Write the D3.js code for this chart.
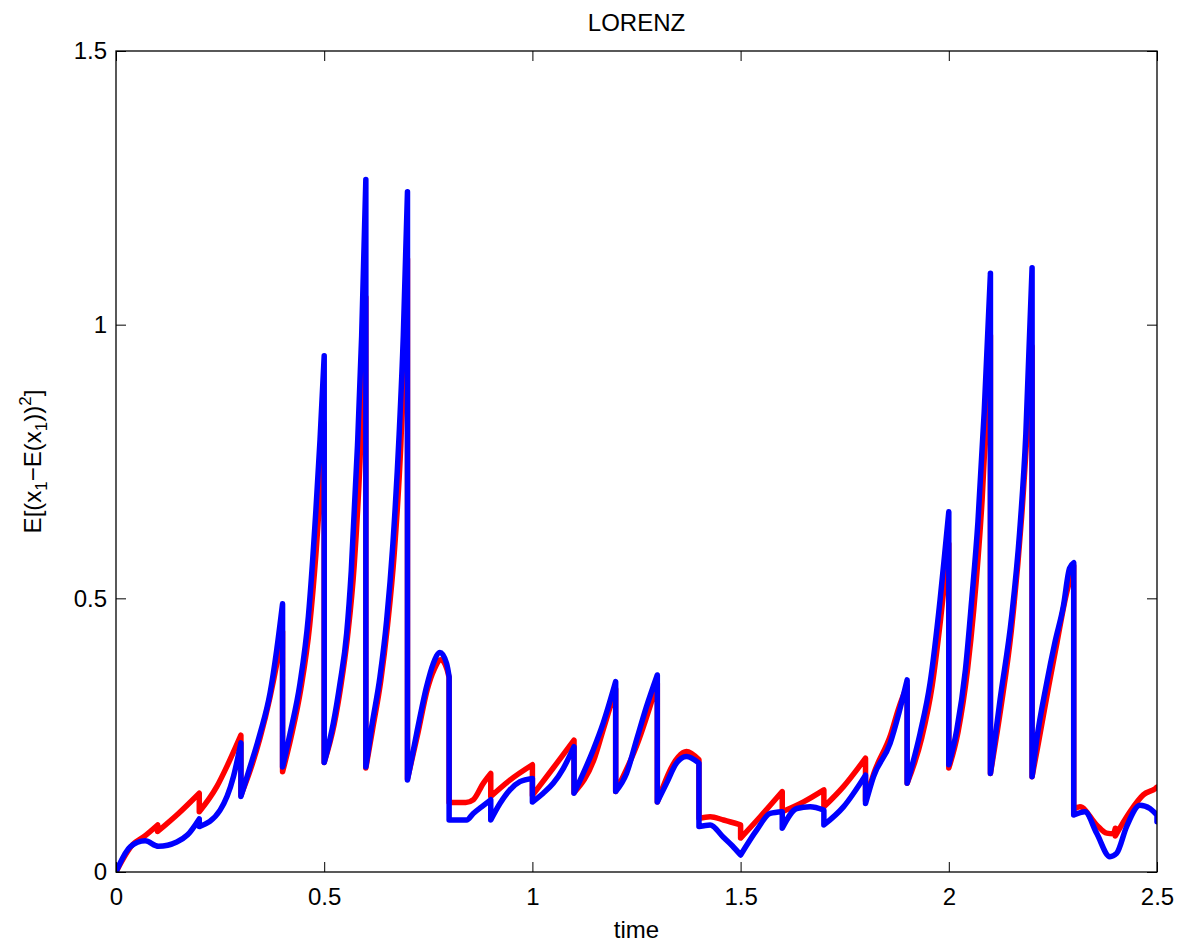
<!DOCTYPE html>
<html>
<head>
<meta charset="utf-8">
<script src="https://cdn.jsdelivr.net/npm/d3@7"></script>
<style>
  body { margin: 0; background: #fff; }
  text { font-family: "Liberation Sans", Arial, sans-serif; fill: #000; }
</style>
</head>
<body>
<svg id="chart" width="1194" height="946"></svg>
<script>
// values (time, variance); repeated times are the jumps
let blueT = [0, 0.034, 0.07, 0.102, 0.146, 0.172, 0.2, 0.2,
  0.25, 0.282, 0.3, 0.3, 0.322, 0.346, 0.37, 0.386, 0.4,
  0.4, 0.418, 0.442, 0.462, 0.48, 0.49, 0.5,
  0.5, 0.522, 0.538, 0.554, 0.565, 0.58, 0.59, 0.6,
  0.6, 0.614, 0.634, 0.65, 0.665, 0.68, 0.69, 0.7,
  0.7, 0.722, 0.746, 0.762, 0.778, 0.794, 0.8,
  0.8, 0.842, 0.858, 0.878, 0.9,
  0.9, 0.922, 0.946, 0.97, 1.0,
  1.0, 1.026, 1.05, 1.074, 1.1,
  1.1, 1.122, 1.146, 1.17, 1.2,
  1.2, 1.226, 1.25, 1.274, 1.3,
  1.3, 1.322, 1.346, 1.37, 1.4,
  1.4, 1.427, 1.458, 1.48, 1.5,
  1.5, 1.539, 1.571, 1.6,
  1.6, 1.635, 1.667, 1.7,
  1.7, 1.747, 1.8,
  1.8, 1.819, 1.859, 1.88, 1.9,
  1.9, 1.931, 1.955, 1.979, 1.99, 2.0,
  2.0, 2.019, 2.04, 2.055, 2.07, 2.085, 2.1,
  2.1, 2.123, 2.151, 2.17, 2.185, 2.2,
  2.2, 2.211, 2.235, 2.255, 2.275, 2.29, 2.3,
  2.3, 2.327, 2.355, 2.387, 2.403, 2.427, 2.459, 2.483, 2.5, 2.5];
let blueV = [0, 0.046, 0.057, 0.047, 0.055, 0.068, 0.097, 0.083,
  0.113, 0.174, 0.236, 0.138, 0.192, 0.253, 0.327, 0.406, 0.49,
  0.192, 0.253, 0.345, 0.467, 0.66, 0.79, 0.943,
  0.2, 0.272, 0.345, 0.436, 0.55, 0.78, 0.98, 1.265,
  0.192, 0.265, 0.357, 0.46, 0.6, 0.8, 0.98, 1.243,
  0.168, 0.253, 0.339, 0.381, 0.401, 0.381, 0.357,
  0.095, 0.095, 0.107, 0.119, 0.132,
  0.095, 0.125, 0.15, 0.165, 0.171,
  0.128, 0.144, 0.162, 0.189, 0.229,
  0.144, 0.18, 0.223, 0.272, 0.348,
  0.147, 0.18, 0.241, 0.302, 0.36,
  0.128, 0.162, 0.199, 0.211, 0.199,
  0.083, 0.086, 0.064, 0.048, 0.031,
  0.031, 0.077, 0.107, 0.11,
  0.08, 0.116, 0.119, 0.113,
  0.086, 0.119, 0.177,
  0.125, 0.174, 0.235, 0.29, 0.351,
  0.162, 0.253, 0.345, 0.497, 0.58, 0.658,
  0.196, 0.259, 0.37, 0.497, 0.64, 0.84, 1.094,
  0.18, 0.314, 0.467, 0.62, 0.8, 1.104,
  0.174, 0.241, 0.345, 0.42, 0.485, 0.555, 0.565,
  0.104, 0.11, 0.071, 0.028, 0.034, 0.083, 0.122, 0.116, 0.104, 0.092];

let redT = [0, 0.04, 0.066, 0.1, 0.1, 0.15, 0.2, 0.2,
  0.242, 0.27, 0.3, 0.3, 0.322, 0.346, 0.37, 0.386, 0.4,
  0.4, 0.42, 0.444, 0.465, 0.48, 0.5,
  0.5, 0.524, 0.54, 0.556, 0.572, 0.586, 0.6,
  0.6, 0.616, 0.636, 0.652, 0.668, 0.684, 0.7,
  0.7, 0.724, 0.748, 0.764, 0.78, 0.795, 0.8,
  0.8, 0.84, 0.858, 0.882, 0.9,
  0.9, 0.946, 1.0,
  1.0, 1.05, 1.1,
  1.1, 1.15, 1.17, 1.2,
  1.2, 1.25, 1.3,
  1.3, 1.35, 1.37, 1.4,
  1.4, 1.427, 1.459, 1.5, 1.5, 1.547, 1.6,
  1.6, 1.651, 1.7,
  1.7, 1.747, 1.8,
  1.8, 1.82, 1.86, 1.88, 1.9,
  1.9, 1.935, 1.96, 1.98, 2.0,
  2.0, 2.022, 2.045, 2.06, 2.08, 2.1,
  2.1, 2.125, 2.15, 2.175, 2.2,
  2.2, 2.215, 2.24, 2.26, 2.28, 2.3,
  2.3, 2.315, 2.355, 2.379, 2.395, 2.4, 2.4, 2.435, 2.467, 2.497, 2.5];
let redV = [0, 0.05, 0.064, 0.086, 0.074, 0.107, 0.144, 0.11,
  0.156, 0.199, 0.25, 0.14, 0.185, 0.245, 0.32, 0.38, 0.44,
  0.183, 0.245, 0.335, 0.45, 0.58, 0.82,
  0.2, 0.27, 0.34, 0.43, 0.56, 0.75, 1.05,
  0.19, 0.26, 0.35, 0.45, 0.58, 0.78, 1.12,
  0.17, 0.25, 0.335, 0.37, 0.388, 0.37, 0.355,
  0.127, 0.127, 0.132, 0.162, 0.18,
  0.138, 0.168, 0.196,
  0.14, 0.19, 0.241,
  0.145, 0.21, 0.26, 0.335,
  0.147, 0.23, 0.345,
  0.128, 0.21, 0.22, 0.205,
  0.098, 0.101, 0.095, 0.086, 0.062, 0.101, 0.147,
  0.11, 0.128, 0.15,
  0.119, 0.156, 0.208,
  0.13, 0.18, 0.25, 0.3, 0.34,
  0.162, 0.245, 0.34, 0.46, 0.6,
  0.19, 0.255, 0.37, 0.48, 0.68, 0.98,
  0.18, 0.3, 0.44, 0.65, 0.96,
  0.174, 0.235, 0.34, 0.42, 0.5, 0.56,
  0.115, 0.119, 0.086, 0.071, 0.07, 0.08, 0.066, 0.11, 0.141, 0.153, 0.155];

let xTicks = [0, 0.5, 1, 1.5, 2, 2.5];
let yTicks = [0, 0.5, 1, 1.5];

let margin = {left: 116, right: 37, top: 51, bottom: 74};
let width = 1194, height = 946;

let svg = d3.select("#chart");

let x = d3.scaleLinear()
          .domain([0, 2.5])
          .range([margin.left, width - margin.right]);
let y = d3.scaleLinear()
          .domain([0, 1.5])
          .range([height - margin.bottom, margin.top]);

svg.append("clipPath")
  .attr("id", "plotclip")
  .append("rect")
  .attr("x", margin.left)
  .attr("y", margin.top)
  .attr("width", x.range()[1] - margin.left)
  .attr("height", y.range()[0] - margin.top);

let line = d3.line()
  .curve(d3.curveMonotoneX)
  .x(d => x(d[0]))
  .y(d => y(d[1]));

// split at the jumps (same time twice), smooth each piece, join with straight drops
function jumpPath(ts, vs) {
  let pieces = [[]];
  ts.forEach((t, i) => {
    if (i > 0 && t === ts[i - 1]) pieces.push([]);
    pieces[pieces.length - 1].push([t, vs[i]]);
  });
  return pieces
    .filter(p => p.length > 0)
    .map((p, i) => {
      let d = p.length > 1 ? line(p) : `M${x(p[0][0])},${y(p[0][1])}`;
      return i === 0 ? d : "L" + d.slice(1);
    })
    .join("");
}

let series = [
  {color: "#ff0000", d: jumpPath(redT, redV)},
  {color: "#0000ff", d: jumpPath(blueT, blueV)}
];

svg.append("g")
  .attr("clip-path", "url(#plotclip)")
  .selectAll("path")
  .data(series)
  .enter()
  .append("path")
  .attr("d", s => s.d)
  .attr("fill", "none")
  .attr("stroke", s => s.color)
  .attr("stroke-width", 5.5)
  .attr("stroke-linejoin", "round")
  .attr("stroke-linecap", "round");

// axes, ticks pointing inward like matlab
let fontSize = 24;
function styleAxis(g) {
  g.select(".domain").remove();
  g.selectAll(".tick line").attr("stroke", "#000").attr("stroke-width", 1);
  g.selectAll(".tick text")
    .attr("font-size", fontSize)
    .attr("font-family", "Liberation Sans, Arial, sans-serif")
    .attr("fill", "#000");
}

svg.append("g")
  .attr("transform", `translate(0,${y(0)})`)
  .call(d3.axisBottom(x).tickValues(xTicks).tickSize(-10).tickPadding(16).tickFormat(d3.format("")))
  .call(styleAxis);
svg.append("g")
  .attr("transform", `translate(0,${y(1.5)})`)
  .call(d3.axisTop(x).tickValues(xTicks).tickSize(-10).tickFormat(""))
  .call(styleAxis);
svg.append("g")
  .attr("transform", `translate(${x(0)},0)`)
  .call(d3.axisLeft(y).tickValues(yTicks).tickSize(-10).tickPadding(9).tickFormat(d3.format("")))
  .call(styleAxis);
svg.append("g")
  .attr("transform", `translate(${x(2.5)},0)`)
  .call(d3.axisRight(y).tickValues(yTicks).tickSize(-10).tickFormat(""))
  .call(styleAxis);

svg.append("rect")
  .attr("x", x(0))
  .attr("y", y(1.5))
  .attr("width", x(2.5) - x(0))
  .attr("height", y(0) - y(1.5))
  .attr("fill", "none")
  .attr("stroke", "#000")
  .attr("stroke-width", 1.3);

svg.append("text")
  .attr("x", (x(0) + x(2.5)) / 2)
  .attr("y", 31)
  .attr("text-anchor", "middle")
  .attr("font-size", fontSize)
  .text("LORENZ");

svg.append("text")
  .attr("x", (x(0) + x(2.5)) / 2)
  .attr("y", 938)
  .attr("text-anchor", "middle")
  .attr("font-size", fontSize)
  .text("time");

let ylab = svg.append("text")
  .attr("transform", `translate(41,${(y(0) + y(1.5)) / 2}) rotate(-90)`)
  .attr("text-anchor", "middle")
  .attr("font-size", fontSize);
ylab.append("tspan").text("E[(x");
ylab.append("tspan").attr("dy", 6).attr("font-size", 17).text("1");
ylab.append("tspan").attr("dy", -6).text("\u2212E(x");
ylab.append("tspan").attr("dy", 6).attr("font-size", 17).text("1");
ylab.append("tspan").attr("dy", -6).text("))");
ylab.append("tspan").attr("dy", -10).attr("font-size", 17).text("2");
ylab.append("tspan").attr("dy", 10).text("]");
</script>
</body>
</html>
